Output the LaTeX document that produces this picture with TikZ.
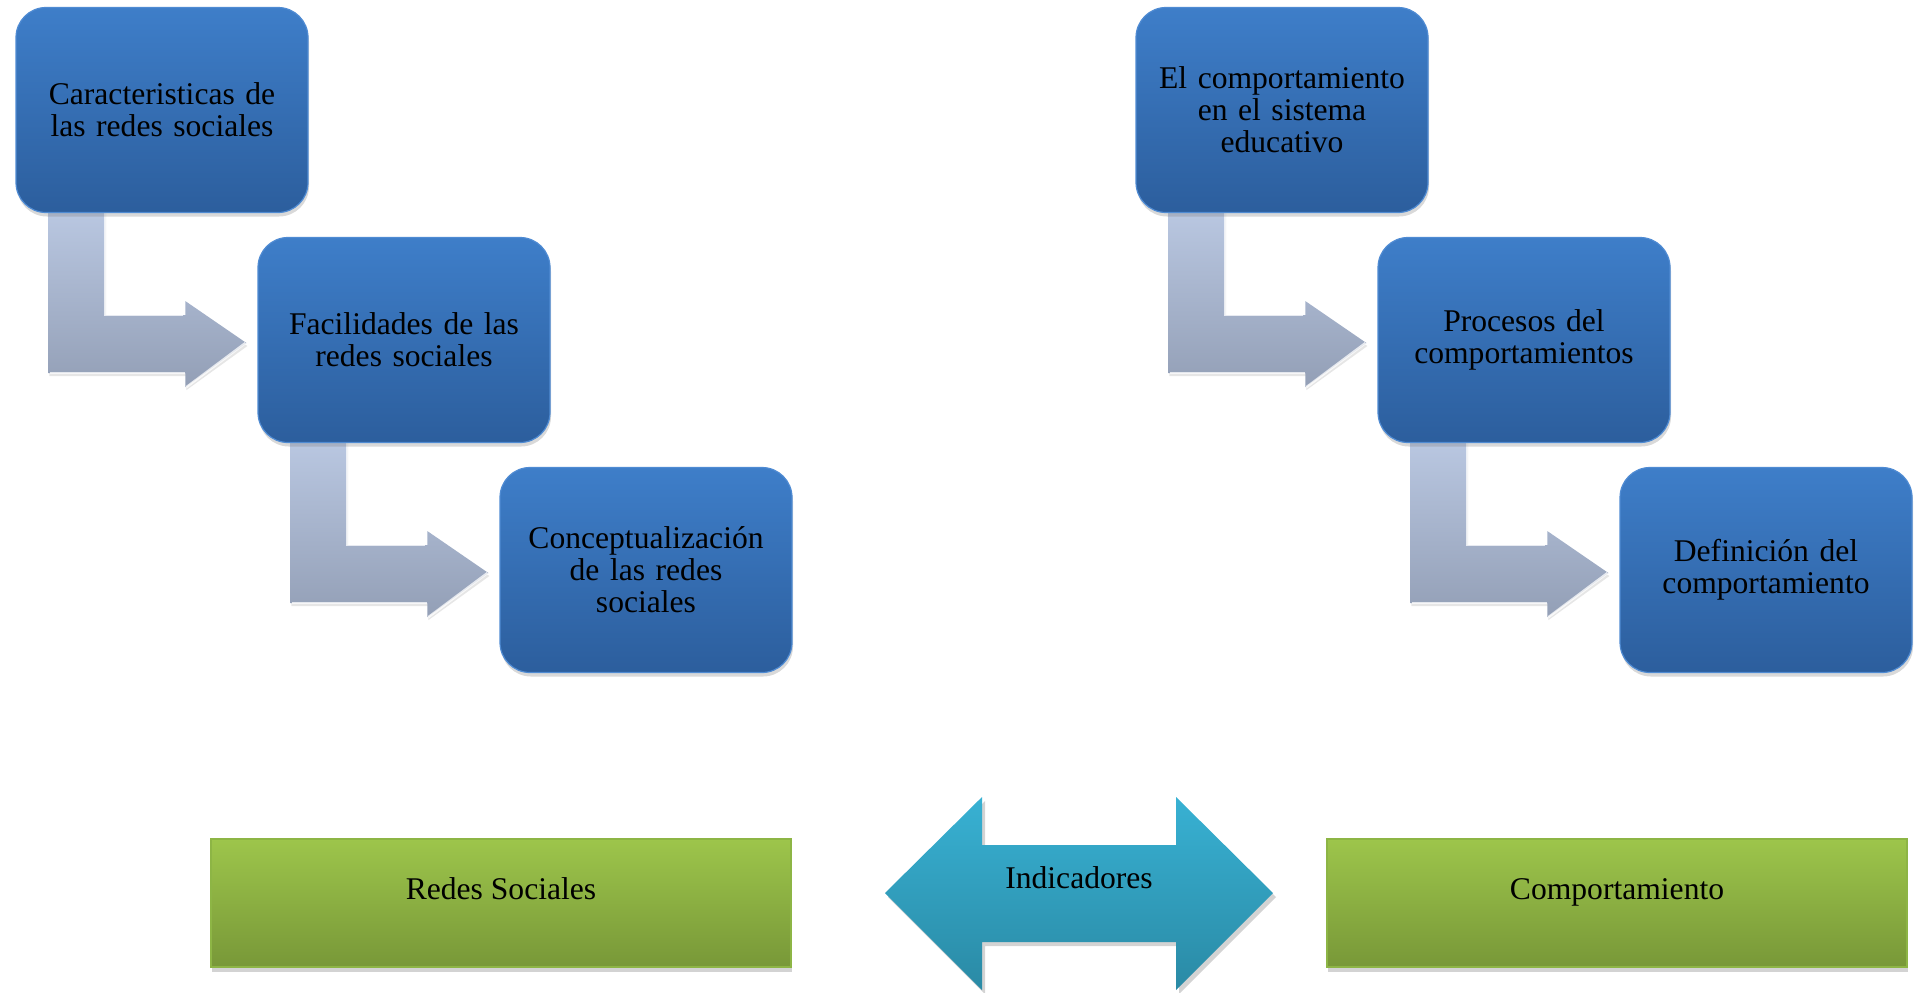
\documentclass[tikz,border=0pt]{standalone}
\usepackage{fontspec}
\setmainfont{Liberation Serif}
\usetikzlibrary{calc,shadows,backgrounds}
\definecolor{bluetop}{HTML}{3E7EC9}
\definecolor{bluebot}{HTML}{2C5E9D}
\definecolor{blueedge}{HTML}{4F8BD3}
\definecolor{arrtop}{HTML}{BAC8E2}
\definecolor{arrbot}{HTML}{939FB6}
\definecolor{greentop}{HTML}{9DC54B}
\definecolor{greenbot}{HTML}{789838}
\definecolor{greenedge}{HTML}{8DB545}
\definecolor{tealtop}{HTML}{38B1D3}
\definecolor{tealbot}{HTML}{2A8AA5}
\newcommand\bentarrow[2]{%
  \shade[bentshape]
    ($(#1.south west)+(33,-6)$) -- ($(#1.south west)+(90,-6)$)
    -- ($(#1.south west)+(90,102)$) -- ($(#1.south west)+(170,102)$)
    -- ($(#1.south west)+(170,88)$) -- ($(#2.west)+(-11,3)$)
    -- ($(#1.south west)+(170,174)$) -- ($(#1.south west)+(170,160)$)
    -- ($(#1.south west)+(33,160)$) -- cycle;
  \draw[bevel] ($(#1.south west)+(90,0)$) -- ($(#1.south west)+(90,102)$) -- ($(#1.south west)+(168,102)$);
  \draw[bevel] ($(#1.south west)+(35,160)$) -- ($(#1.south west)+(170,160)$);
  \draw[bevel] ($(#1.south west)+(171,174)$) -- ($(#2.west)+(-12,3)$);
}
\begin{document}
\begin{tikzpicture}[x=0.5pt,y=-0.5pt,
  bluebox/.style={rectangle, rounded corners=15pt, minimum width=146pt,
    minimum height=102.5pt, inner sep=0pt, top color=bluetop,
    bottom color=bluebot, draw=blueedge, line width=0.6pt, align=center,
    text width=138pt, font=\fontsize{15.8}{16}\selectfont,
    drop shadow={shadow xshift=0.5pt, shadow yshift=-2pt, opacity=0.3}},
  greenbox/.style={rectangle, minimum width=290pt, minimum height=64pt,
    inner sep=0pt, top color=greentop, bottom color=greenbot,
    draw=greenedge, line width=0.6pt,
    drop shadow={shadow xshift=0.5pt, shadow yshift=-2.5pt, opacity=0.35}},
  lbl/.style={font=\fontsize{15.8}{16}\selectfont, inner sep=0pt},
  bentshape/.style={top color=arrtop, bottom color=arrbot,
    drop shadow={shadow xshift=0.5pt, shadow yshift=-1.5pt, opacity=0.2}},
  bevel/.style={white, line width=1.2pt, opacity=0.75},
  dblarrow/.style={top color=tealtop, bottom color=tealbot,
    drop shadow={shadow xshift=1.5pt, shadow yshift=-2pt, opacity=0.35}},
]
\useasboundingbox (0,0) rectangle (1914,992);

% blue boxes
\node[bluebox] (b1) at (162,110) {Caracteristicas de\\las redes sociales};
\node[bluebox] (b2) at (404,340) {Facilidades de las\\redes sociales};
\node[bluebox] (b3) at (646,570) {Conceptualización\\de las redes\\sociales};
\node[bluebox] (b4) at (1282,110) {El comportamiento\\en el sistema\\educativo};
\node[bluebox] (b5) at (1524,340) {Procesos del\\comportamientos};
\node[bluebox] (b6) at (1766,570) {Definición del\\comportamiento};

% bent arrows
\begin{scope}[on background layer]
  \bentarrow{b1}{b2}
  \bentarrow{b2}{b3}
  \bentarrow{b4}{b5}
  \bentarrow{b5}{b6}
\end{scope}

% green boxes
\node[greenbox] (g1) at (501,903) {};
\node[greenbox] (g2) at (1617,903) {};
\node[lbl, anchor=base] (t1) at (501,899) {Redes Sociales};
\node[lbl, anchor=base] (t2) at (1617,899) {Comportamiento};

% double arrow
\shade[dblarrow] (885,893) -- (982,797) -- (982,845) -- (1176,845)
  -- (1176,797) -- (1273,893) -- (1176,990) -- (1176,942) -- (982,942)
  -- (982,990) -- cycle;
\node[lbl, anchor=base] (ind) at (1079,888) {Indicadores};
\end{tikzpicture}
\end{document}
